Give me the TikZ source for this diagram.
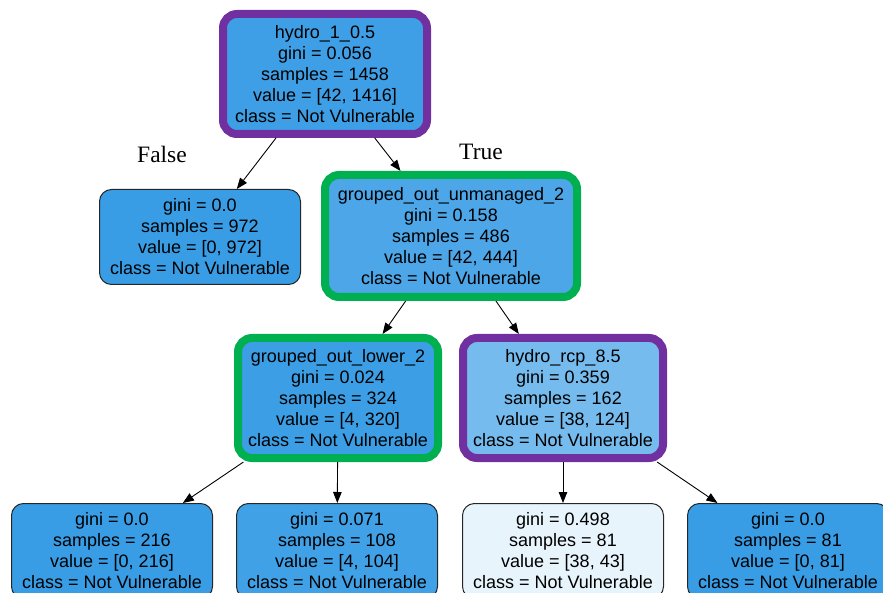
\documentclass[tikz,border=0pt]{standalone}
\usepackage{fontspec}
\setmainfont{Liberation Sans}
\newfontfamily\edgefont{Liberation Serif}
\usepackage{xcolor}
\usetikzlibrary{
  arrows.meta,
  positioning
}
\definecolor{nvroot}{RGB}{63,159,230}
\definecolor{nvpure}{RGB}{57,157,229}
\definecolor{nvgouu}{RGB}{76,166,231}
\definecolor{nvgoul}{RGB}{60,158,229}
\definecolor{nvrcp}{RGB}{118,187,237}
\definecolor{nvmix}{RGB}{232,244,252}
\definecolor{nvleaftwo}{RGB}{65,161,230}
\definecolor{markpurple}{RGB}{112,48,160}
\definecolor{markgreen}{RGB}{0,176,80}
\tikzset{
  leafbox/.style={
    draw=black!85,
    line width=1pt,
    rounded corners=12pt,
    minimum width=201pt,
    minimum height=95pt,
    inner sep=0pt,
    align=center,
    font=\fontsize{18}{21}\selectfont,
  },
  splitbox/.style={
    line width=8pt,
    rounded corners=14pt,
    minimum width=200pt,
    minimum height=120pt,
    inner sep=0pt,
    align=center,
    font=\fontsize{18}{21}\selectfont,
  },
  purplebox/.style={splitbox, draw=markpurple},
  greenbox/.style={splitbox, draw=markgreen},
  arr/.style={
    -{Triangle[length=11pt,width=8.5pt]},
    line width=0.9pt,
    draw=black,
  },
  edgelbl/.style={
    font=\edgefont\fontsize{23.5}{26}\selectfont,
    inner sep=0pt,
  },
}

\begin{document}
\begin{tikzpicture}[x=1pt, y=-1pt]
  \useasboundingbox (0,0) rectangle (883,593);

  % Level 0 — root split
  \node[purplebox, fill=nvroot, minimum width=204pt] (root) at (325,74)
    {hydro\_1\_0.5\\gini = 0.056\\samples = 1458\\value = [42, 1416]\\class = Not Vulnerable};

  % Level 1
  \node[leafbox, fill=nvpure] (leafA) at (200,237)
    {gini = 0.0\\samples = 972\\value = [0, 972]\\class = Not Vulnerable};
  \node[greenbox, fill=nvgouu, minimum width=252pt, minimum height=122pt] (gouu) at (451,236)
    {grouped\_out\_unmanaged\_2\\gini = 0.158\\samples = 486\\value = [42, 444]\\class = Not Vulnerable};

  \draw[arr] (root) -- (leafA);
  \draw[arr] (root) -- (gouu);
  \node[edgelbl] (lblfalse) at (162,154) {False};
  \node[edgelbl] (lbltrue) at (481,152) {True};

  % Level 2
  \node[greenbox, fill=nvgoul] (goul) at (338,398)
    {grouped\_out\_lower\_2\\gini = 0.024\\samples = 324\\value = [4, 320]\\class = Not Vulnerable};
  \node[purplebox, fill=nvrcp] (hrcp) at (563,398)
    {hydro\_rcp\_8.5\\gini = 0.359\\samples = 162\\value = [38, 124]\\class = Not Vulnerable};

  \draw[arr] (gouu) -- (goul);
  \draw[arr] (gouu) -- (hrcp);

  % Level 3 — leaves
  \node[leafbox, fill=nvpure] (leafB) at (112,551)
    {gini = 0.0\\samples = 216\\value = [0, 216]\\class = Not Vulnerable};
  \node[leafbox, fill=nvleaftwo] (leafC) at (337,551)
    {gini = 0.071\\samples = 108\\value = [4, 104]\\class = Not Vulnerable};
  \node[leafbox, fill=nvmix] (leafD) at (563,551)
    {gini = 0.498\\samples = 81\\value = [38, 43]\\class = Not Vulnerable};
  \node[leafbox, fill=nvpure] (leafE) at (788,551)
    {gini = 0.0\\samples = 81\\value = [0, 81]\\class = Not Vulnerable};

  \draw[arr] (goul) -- (leafB);
  \draw[arr] (goul) -- (leafC);
  \draw[arr] (hrcp) -- (leafD);
  \draw[arr] (hrcp) -- (leafE);
\end{tikzpicture}
\end{document}
